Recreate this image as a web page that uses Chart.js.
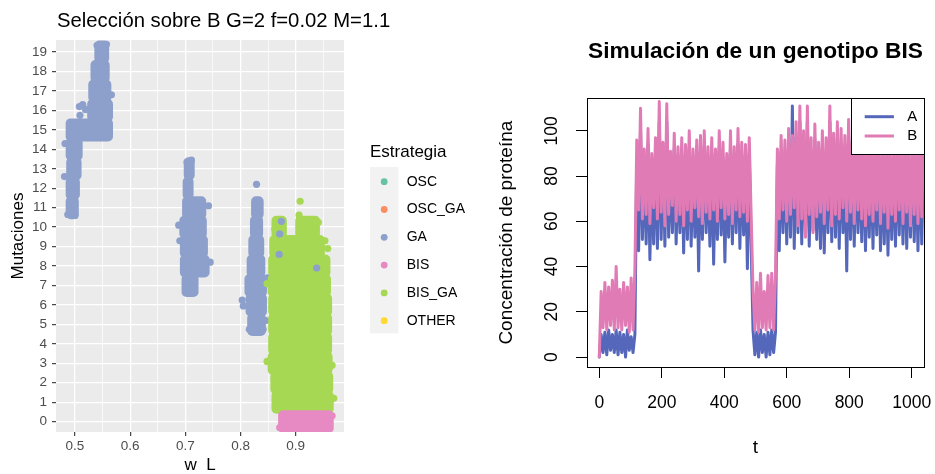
<!DOCTYPE html>
<html><head><meta charset="utf-8">
<script src="https://cdn.jsdelivr.net/npm/chart.js@4.4.1/dist/chart.umd.min.js"></script>
<style>
html,body{margin:0;padding:0;background:#fff;width:935px;height:474px;overflow:hidden;}
#c1{position:absolute;left:0;top:0;}
#c2{position:absolute;left:480px;top:0;}
</style></head><body>
<canvas id="c1" width="480" height="474"></canvas>
<canvas id="c2" width="455" height="474"></canvas>
<script>
const FONT = "'Liberation Sans', Arial, Helvetica, sans-serif";
Chart.defaults.font.family = FONT;
Chart.defaults.animation = false;

/* ---------------- LEFT PANEL DATA ---------------- */
const leftTitle = 'Selección sobre B G=2 f=0.02 M=1.1';
const strategies = ['OSC', 'OSC_GA', 'GA', 'BIS', 'BIS_GA', 'OTHER'];
const strategyColors = ['#66C2A5', '#FC8D62', '#8DA0CB', '#E78AC3', '#A6D854', '#FFD92F'];

const wMajorTicks = [0.5, 0.6, 0.7, 0.8, 0.9];
const wTickLabels = ['0.5', '0.6', '0.7', '0.8', '0.9'];
const wMinorTicks = [0.55, 0.65, 0.75, 0.85, 0.95];
const mutTicks = [0, 1, 2, 3, 4, 5, 6, 7, 8, 9, 10, 11, 12, 13, 14, 15, 16, 17, 18, 19];
const mutTickLabels = ['0','1','2','3','4','5','6','7','8','9','10','11','12','13','14','15','16','17','18','19'];

// dense point clouds per mutation level: [w_L from, w_L to, mutaciones]
const gaBands = [
  [0.484, 0.506, 11], [0.484, 0.508, 12], [0.485, 0.511, 13], [0.484, 0.513, 14], [0.484, 0.568, 15],
  [0.523, 0.568, 16], [0.525, 0.565, 17], [0.529, 0.562, 18], [0.536, 0.561, 19],
  [0.698, 0.716, 13], [0.696, 0.714, 12], [0.695, 0.737, 11], [0.690, 0.738, 10], [0.691, 0.740, 9],
  [0.691, 0.743, 8], [0.694, 0.723, 7],
  [0.820, 0.841, 11], [0.818, 0.840, 10], [0.815, 0.842, 9], [0.812, 0.844, 8], [0.808, 0.847, 7],
  [0.810, 0.847, 6], [0.813, 0.845, 5]
];
// single points: [w_L, mutaciones]
const gaPoints = [
  [0.829, 12.2], [0.508, 16.2], [0.514, 16.3], [0.509, 15.75], [0.519, 16.05], [0.803, 6.25],
  [0.805, 5.95], [0.703, 13.35], [0.711, 13.45], [0.688, 10.1], [0.690, 9.3], [0.742, 11.1],
  [0.745, 8.2], [0.482, 14.3], [0.481, 12.6], [0.540, 19.35], [0.557, 19.4], [0.566, 16.8],
  [0.849, 7.4], [0.846, 5.2], [0.816, 4.75], [0.841, 4.75], [0.487, 10.65], [0.500, 10.6]
];
const gaOverPoints = [[0.874, 10.3], [0.870, 8.6], [0.938, 7.9], [0.871, 9.65]];

const bisGaBands = [
  [0.857, 0.883, 10], [0.900, 0.943, 10],
  [0.853, 0.952, 9], [0.851, 0.962, 8], [0.850, 0.963, 7], [0.851, 0.965, 6], [0.851, 0.965, 5],
  [0.851, 0.965, 4], [0.850, 0.966, 3], [0.855, 0.967, 2], [0.857, 0.968, 1]
];
const bisGaPoints = [
  [0.908, 11.33], [0.906, 10.62], [0.928, 10.3], [0.941, 10.25], [0.862, 9.9], [0.866, 10.2],
  [0.953, 9.3], [0.958, 8.9], [0.966, 2.9], [0.848, 7.1], [0.848, 3.1], [0.969, 1.2]
];
const bisBands = [[0.869, 0.968, 0]];
const bisPoints = [[0.871, -0.3], [0.966, 0.3]];

/* ---------------- RIGHT PANEL DATA ---------------- */
const STEP = 6; // sampling interval of t
const tTicks = [0, 200, 400, 600, 800, 1000];
const tTickLabels = ['0', '200', '400', '600', '800', '1000'];
const cTicks = [0, 20, 40, 60, 80, 100];
const cTickLabels = ['0', '20', '40', '60', '80', '100'];

const A = [
  0, 10, 2, 11, 1, 12, 3, 10, 2, 12, 1, 11, 2, 10, 0, 12, 3, 9, 2, 10,
  89, 47, 101, 52, 85, 50, 94, 43, 83, 50,
  90, 48, 104, 52, 88, 49, 104, 53, 84, 55,
  92, 50, 86, 55, 90, 46, 87, 52, 93, 49,
  85, 53, 89, 38, 91, 52, 93, 55, 86, 49,
  90, 41, 85, 52, 93, 54, 88, 42, 83, 53,
  93, 50, 86, 55, 94, 48, 88, 54, 87, 39,
  90, 50,
  12, 1, 11, 0, 12, 2, 10, 0, 11, 1, 12, 2, 11,
  85, 47, 91, 55, 89, 50, 94, 53, 111, 48,
  97, 55, 104, 50, 93, 54, 104, 49, 90, 56,
  96, 52, 88, 48, 93, 46, 90, 55, 104, 51,
  92, 53, 97, 48, 94, 55, 91, 38, 98, 52,
  89, 49, 93, 55, 88, 51, 91, 47, 86, 53,
  90, 48, 87, 54, 92, 47, 85, 50, 89, 45,
  88, 52, 86, 49, 91, 54, 87, 50, 90, 48,
  86, 53, 89, 51, 87, 47, 90, 50, 88
];
const B = [
  0, 29, 13, 33, 12, 31, 14, 34, 12, 40, 13, 30, 12, 33, 14, 31, 11, 35, 12, 39,
  96, 65, 110, 61, 92, 63, 101, 59, 90, 66,
  97, 61, 113, 64, 95, 58, 112, 63, 91, 67,
  99, 60, 93, 63, 97, 58, 94, 65, 100, 60,
  92, 66, 96, 62, 98, 59, 100, 64, 93, 61,
  97, 65, 92, 60, 100, 66, 95, 61, 90, 63,
  100, 59, 93, 65, 101, 62, 95, 64, 94, 60,
  97, 63,
  30, 12, 33, 11, 37, 13, 29, 12, 36, 13, 37, 12, 36,
  92, 61, 98, 65, 96, 60, 101, 63, 98, 66,
  104, 58, 111, 61, 100, 53, 111, 63, 97, 55,
  103, 62, 95, 64, 100, 59, 97, 65, 111, 58,
  99, 63, 104, 61, 101, 66, 98, 60, 105, 64,
  96, 59, 100, 65, 95, 61, 98, 58, 93, 63,
  97, 60, 94, 65, 99, 59, 92, 64, 96, 57,
  95, 63, 93, 60, 98, 65, 94, 59, 97, 64,
  93, 58, 96, 63, 94, 59, 97, 62, 95
];
const t = A.map((_, i) => i * STEP);

/* ---------------- LEFT CHART ---------------- */
const isMajorW = v => wMajorTicks.some(m => Math.abs(m - v) < 1e-9);
const bandSet = (label, bands, color, order) => ({
  type: 'bar', label, order, grouped: false, barThickness: 22, maxBarThickness: 22,
  categoryPercentage: 1, barPercentage: 1, inflateAmount: 0.5,
  borderRadius: 5, borderSkipped: false, borderWidth: 0, backgroundColor: color,
  data: bands.map(([a, b, m]) => ({ x: [a, b], y: m }))
});
const pointSet = (label, pts, color, order) => ({
  type: 'scatter', label, order, indexAxis: 'x', pointRadius: 3.6, pointBorderWidth: 0,
  pointBackgroundColor: color, backgroundColor: color, borderColor: color,
  data: pts.map(([w, m]) => ({ x: w, y: m }))
});
const col = name => strategyColors[strategies.indexOf(name)];

const panelBg = {
  id: 'panelBg',
  beforeDraw(chart) {
    const { ctx, chartArea: a } = chart;
    ctx.save(); ctx.fillStyle = '#EBEBEB';
    ctx.fillRect(a.left, a.top, a.right - a.left, a.bottom - a.top);
    ctx.restore();
  }
};
const stratLegend = {
  id: 'stratLegend',
  afterDraw(chart) {
    const ctx = chart.ctx;
    ctx.save();
    ctx.fillStyle = '#000'; ctx.font = `20.3px ${FONT}`;
    ctx.textAlign = 'left'; ctx.textBaseline = 'middle';
    ctx.fillText(leftTitle, 57, 21.5);
    ctx.font = `17px ${FONT}`; ctx.textBaseline = 'alphabetic';
    ctx.fillText('Estrategia', 370, 156.5);
    ctx.fillStyle = '#F2F2F2'; ctx.fillRect(370, 167, 28.3, 166.3);
    strategies.forEach((s, i) => {
      const y = 181.7 + i * 27.8;
      ctx.beginPath(); ctx.arc(384.2, y, 3.4, 0, 2 * Math.PI);
      ctx.fillStyle = strategyColors[i]; ctx.fill();
      ctx.fillStyle = '#000'; ctx.font = `14px ${FONT}`; ctx.textBaseline = 'middle';
      ctx.fillText(s, 406.7, y);
    });
    ctx.restore();
  }
};

new Chart(document.getElementById('c1'), {
  type: 'bar',
  data: {
    datasets: [
      bandSet('BIS', bisBands, col('BIS'), 0),
      pointSet('BIS', bisPoints, col('BIS'), 0),
      pointSet('GA', gaOverPoints, col('GA'), 1),
      bandSet('BIS_GA', bisGaBands, col('BIS_GA'), 2),
      pointSet('BIS_GA', bisGaPoints, col('BIS_GA'), 2),
      bandSet('GA', gaBands, col('GA'), 3),
      pointSet('GA', gaPoints, col('GA'), 3)
    ]
  },
  options: {
    responsive: false, animation: false, events: [], indexAxis: 'y',
    layout: { padding: { left: 0, right: 136, top: 40, bottom: 0 } },
    plugins: { legend: { display: false }, tooltip: { enabled: false }, title: { display: false } },
    scales: {
      x: {
        type: 'linear', min: 0.4656, max: 0.9875, offset: false,
        afterBuildTicks: s => { s.ticks = [...wMajorTicks, ...wMinorTicks].sort((a, b) => a - b).map(v => ({ value: v })); },
        afterFit: s => { s.height = 42; s.paddingLeft = 0; s.paddingRight = 0; },
        border: { display: false },
        grid: {
          offset: false, color: '#FFFFFF',
          lineWidth: c => (c.tick && isMajorW(c.tick.value)) ? 1.3 : 0.7,
          tickColor: c => (c.tick && isMajorW(c.tick.value)) ? '#333333' : 'rgba(0,0,0,0)',
          tickLength: 4, tickWidth: 1.1
        },
        ticks: {
          autoSkip: false, maxRotation: 0, padding: 2.6, color: '#4D4D4D', font: { size: 13.5 },
          callback: v => { const i = wMajorTicks.findIndex(m => Math.abs(m - v) < 1e-9); return i < 0 ? '' : wTickLabels[i]; }
        },
        title: { display: true, text: 'w  L', color: '#000', font: { size: 17, lineHeight: 1 }, padding: { top: 0, bottom: 0 } }
      },
      y: {
        type: 'linear', min: -0.53, max: 19.62, offset: false,
        afterBuildTicks: s => { s.ticks = mutTicks.map(v => ({ value: v })); },
        afterFit: s => { s.width = 56; s.paddingTop = 0; s.paddingBottom = 0; },
        border: { display: false },
        grid: { offset: false, color: '#FFFFFF', lineWidth: 1.3, tickColor: '#333333', tickLength: 4, tickWidth: 1.1 },
        ticks: { autoSkip: false, padding: 5, color: '#4D4D4D', font: { size: 13.5 }, callback: (v, i) => mutTickLabels[i] },
        title: { display: true, text: 'Mutaciones', color: '#000', font: { size: 17 }, padding: { top: 8, bottom: 0 } }
      }
    }
  },
  plugins: [panelBg, stratLegend]
});

/* ---------------- RIGHT CHART ---------------- */
const seriesColors = { A: '#5567BA', B: '#E07BB5' };
const boxAndLabels = {
  id: 'boxAndLabels',
  afterDraw(chart) {
    const { ctx, chartArea: a } = chart;
    const ys = chart.scales.y;
    ctx.save();
    ctx.strokeStyle = '#000'; ctx.lineWidth = 1;
    ctx.strokeRect(Math.round(a.left) + 0.5, Math.round(a.top) + 0.5, Math.round(a.right - a.left), Math.round(a.bottom - a.top));
    ctx.fillStyle = '#000'; ctx.font = `17.5px ${FONT}`; ctx.textAlign = 'center'; ctx.textBaseline = 'middle';
    cTicks.forEach((v, i) => {
      ctx.save(); ctx.translate(a.left - 35.3, ys.getPixelForValue(v)); ctx.rotate(-Math.PI / 2);
      ctx.fillText(cTickLabels[i], 0, 0); ctx.restore();
    });
    const w = 72.6, h = 55.7, x0 = a.right - w, y0 = a.top;
    ctx.fillStyle = '#fff'; ctx.fillRect(x0, y0, w, h);
    ctx.strokeRect(Math.round(x0) + 0.5, Math.round(y0) + 0.5, Math.round(w), Math.round(h));
    [['A', 18.4], ['B', 37.7]].forEach(([name, dy]) => {
      ctx.strokeStyle = seriesColors[name]; ctx.lineWidth = 3; ctx.lineCap = 'butt';
      ctx.beginPath(); ctx.moveTo(x0 + 13.3, y0 + dy); ctx.lineTo(x0 + 42.5, y0 + dy); ctx.stroke();
      ctx.fillStyle = '#000'; ctx.font = `15px ${FONT}`; ctx.textAlign = 'center';
      ctx.fillText(name, x0 + 60.8, y0 + dy);
    });
    ctx.restore();
  }
};

new Chart(document.getElementById('c2'), {
  type: 'line',
  data: {
    datasets: [
      { label: 'B', order: 0, data: B.map((v, i) => ({ x: t[i], y: v })), borderColor: seriesColors.B },
      { label: 'A', order: 1, data: A.map((v, i) => ({ x: t[i], y: v })), borderColor: seriesColors.A }
    ]
  },
  options: {
    responsive: false, animation: false, events: [],
    layout: { padding: { left: 0, right: 11, top: 0, bottom: 0 } },
    elements: {
      line: { borderWidth: 3, tension: 0, borderJoinStyle: 'round', borderCapStyle: 'round', fill: false },
      point: { radius: 0 }
    },
    plugins: {
      legend: { display: false }, tooltip: { enabled: false },
      title: {
        display: true, text: 'Simulación de un genotipo BIS', align: 'center', fullSize: false,
        color: '#000', font: { size: 22.75, weight: 'bold' }, padding: { top: 38.5, bottom: 32.5 }
      }
    },
    scales: {
      x: {
        type: 'linear', min: -39.3, max: 1039.3,
        afterBuildTicks: s => { s.ticks = tTicks.map(v => ({ value: v })); },
        afterFit: s => { s.height = 107; s.paddingLeft = 0; s.paddingRight = 0; },
        border: { display: false },
        grid: { drawOnChartArea: false, color: '#000', tickColor: '#000', tickLength: 11, tickWidth: 1 },
        ticks: { autoSkip: false, maxRotation: 0, padding: 14.5, color: '#000', font: { size: 17.5 }, callback: (v, i) => tTickLabels[i] },
        title: { display: true, text: 't', color: '#000', font: { size: 19 }, padding: { top: 0, bottom: 15 } }
      },
      y: {
        type: 'linear', min: -4.4, max: 114.4,
        afterBuildTicks: s => { s.ticks = cTicks.map(v => ({ value: v })); },
        afterFit: s => { s.width = 107; s.paddingTop = 0; s.paddingBottom = 0; },
        border: { display: false },
        grid: { drawOnChartArea: false, color: '#000', tickColor: '#000', tickLength: 11, tickWidth: 1 },
        ticks: { autoSkip: false, color: 'rgba(0,0,0,0)', font: { size: 17.5 }, callback: (v, i) => cTickLabels[i] },
        title: { display: true, text: 'Concentración de proteína', color: '#000', font: { size: 19 }, padding: { top: 15.3, bottom: 0 } }
      }
    }
  },
  plugins: [boxAndLabels]
});
</script></body></html>
